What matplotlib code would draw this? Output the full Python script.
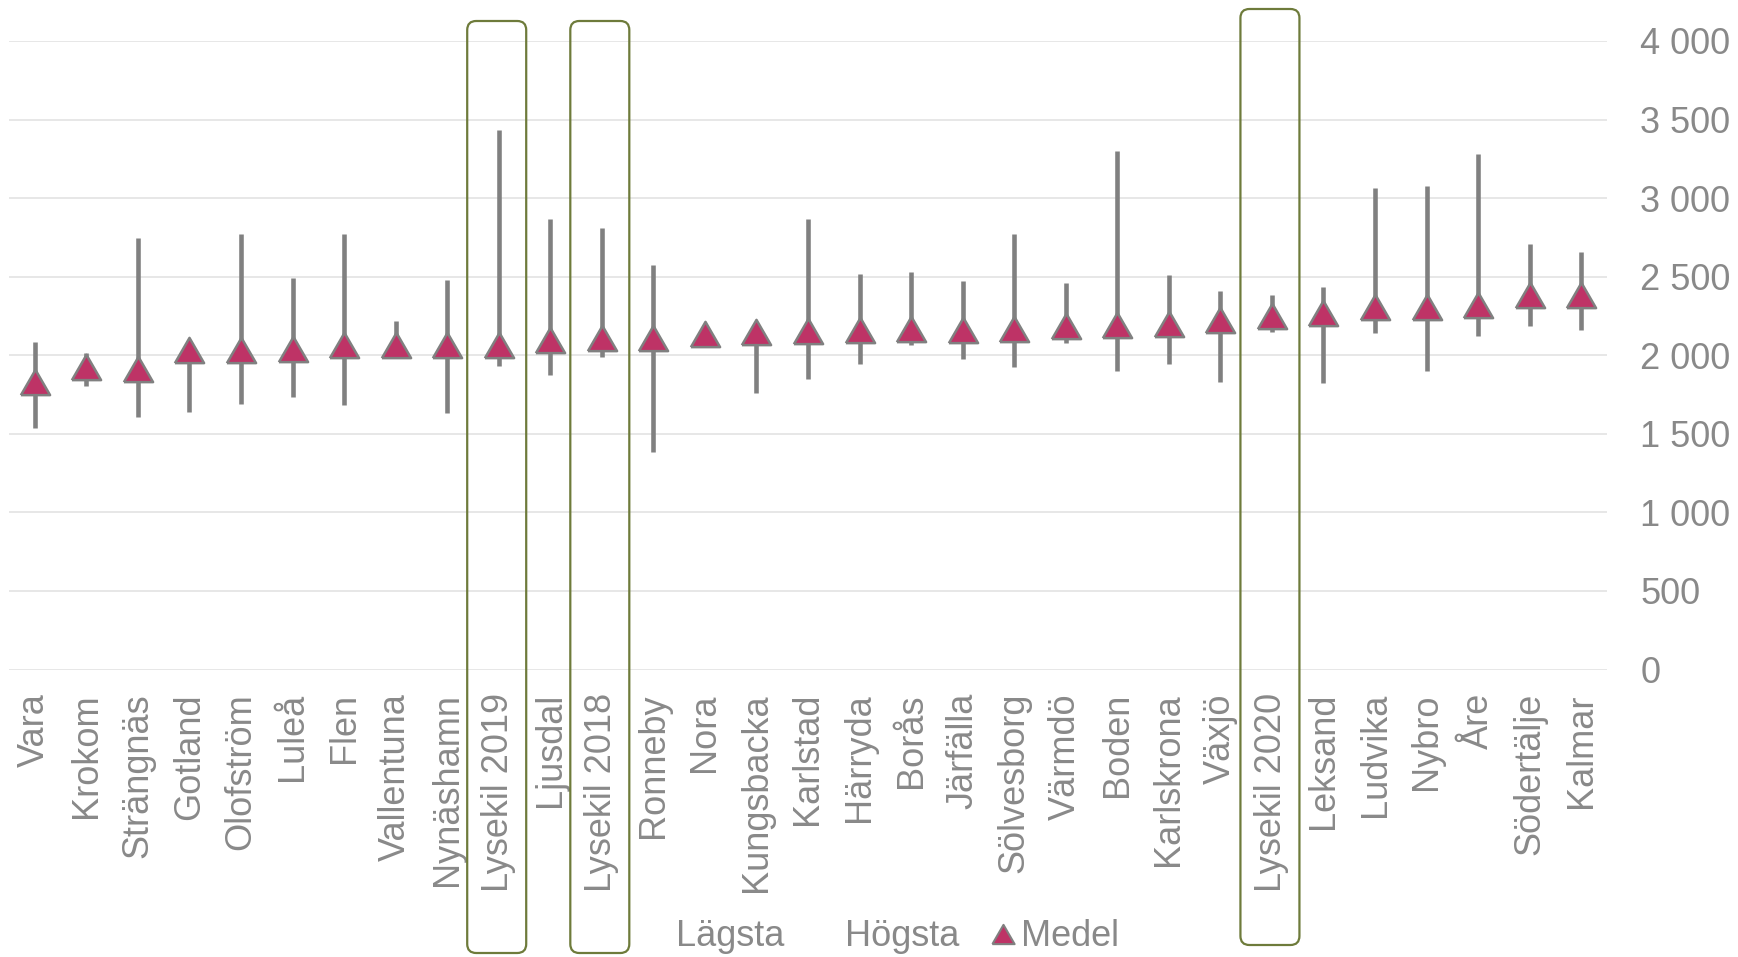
import numpy as np
import matplotlib
matplotlib.use('Agg')
import matplotlib.pyplot as plt
from matplotlib.patches import FancyBboxPatch
from matplotlib.lines import Line2D
from matplotlib.transforms import IdentityTransform
from matplotlib.ticker import FuncFormatter

# data
kommuner = ['Vara', 'Krokom', 'Strängnäs', 'Gotland', 'Olofström', 'Luleå', 'Flen',
            'Vallentuna', 'Nynäshamn', 'Lysekil 2019', 'Ljusdal', 'Lysekil 2018',
            'Ronneby', 'Nora', 'Kungsbacka', 'Karlstad', 'Härryda', 'Borås', 'Järfälla',
            'Sölvesborg', 'Värmdö', 'Boden', 'Karlskrona', 'Växjö', 'Lysekil 2020',
            'Leksand', 'Ludvika', 'Nybro', 'Åre', 'Södertälje', 'Kalmar']
lagsta = [1537, 1805, 1608, 1639, 1690, 1736, 1685, 1990, 1631, 1929, 1872, 1991,
          1384, 2100, 1759, 1850, 1946, 2063, 1975, 1926, 2077, 1898, 1946, 1830,
          2151, 1821, 2139, 1898, 2122, 2185, 2159]
hogsta = [2085, 2014, 2747, 2100, 2773, 2494, 2773, 2219, 2477, 3435, 2864, 2810,
          2577, 2180, 2160, 2869, 2520, 2528, 2475, 2770, 2457, 3298, 2511, 2406,
          2384, 2435, 3063, 3080, 3279, 2710, 2659]
medel = [1827, 1926, 1915, 2034, 2031, 2040, 2065, 2063, 2065, 2068, 2099, 2108,
         2108, 2134, 2148, 2153, 2162, 2165, 2162, 2165, 2185, 2190, 2199, 2222,
         2250, 2270, 2304, 2307, 2321, 2384, 2386]
markerade = ['Lysekil 2019', 'Lysekil 2018', 'Lysekil 2020']

textfarg = '#898989'
gra = '#808080'
rosa = '#BE3366'
oliv = '#6E7B3B'
fs = 26

plt.rcParams['font.family'] = ['Liberation Sans', 'DejaVu Sans']

W, H = 1738, 957
fig = plt.figure(figsize=(W / 100, H / 100), dpi=100)
ax = fig.add_axes([9 / W, 1 - 669.5 / H, (1607 - 9) / W, (669.5 - 41) / H])

x = np.arange(len(kommuner))
triangel = [(-1, -0.866), (1, -0.866), (0, 0.866), (-1, -0.866)]

ax.vlines(x, lagsta, hogsta, color=gra, lw=3.3, zorder=2)
ax.plot(x, medel, linestyle='none', marker=triangel, ms=21, mfc=rosa,
        mec=gra, mew=1.8, zorder=3)

ax.set_xlim(-0.5, len(kommuner) - 0.5)
ax.set_ylim(0, 4000)
ax.set_yticks(np.arange(0, 4001, 500))
ax.yaxis.set_major_formatter(FuncFormatter(lambda v, p: f'{int(v):,}'.replace(',', ' ')))
ax.yaxis.tick_right()
ax.grid(axis='y', color='#e3e3e3', lw=1.2)
ax.set_axisbelow(True)
for s in ax.spines.values():
    s.set_visible(False)
ax.tick_params(axis='y', length=0, pad=24, labelsize=fs, labelcolor=textfarg)
ax.tick_params(axis='x', length=0, pad=17, labelsize=fs, labelcolor=textfarg)
ax.set_xticks(x)
ax.set_xticklabels(kommuner, rotation=90, va='top', ha='center')

# rounded frames around the Lysekil columns
for namn in markerade:
    i = kommuner.index(namn)
    cx = ax.transData.transform((i, 0))[0] - 2
    if namn == 'Lysekil 2020':
        y0, y1 = H - 945, H - 9
    else:
        y0, y1 = H - 953, H - 21
    box = FancyBboxPatch((cx - 29.5, y0), 59, y1 - y0,
                         boxstyle='round,pad=0,rounding_size=9',
                         fill=False, ec=oliv, lw=1.6,
                         transform=IdentityTransform(), zorder=5)
    fig.patches.append(box)

handles = [Line2D([], [], linestyle='none'),
           Line2D([], [], linestyle='none'),
           Line2D([], [], linestyle='none', marker=triangel, ms=16,
                  mfc=rosa, mec=gra, mew=1.5)]
leg = fig.legend(handles, ['Lägsta', 'Högsta', 'Medel'], ncol=3, loc='center',
                 bbox_to_anchor=(0.508, 20 / H), frameon=False, fontsize=fs,
                 handlelength=0.6, handletextpad=0.2, columnspacing=0.9,
                 borderpad=0, borderaxespad=0)
for t in leg.get_texts():
    t.set_color(textfarg)

fig.savefig('out.png', dpi=100)
